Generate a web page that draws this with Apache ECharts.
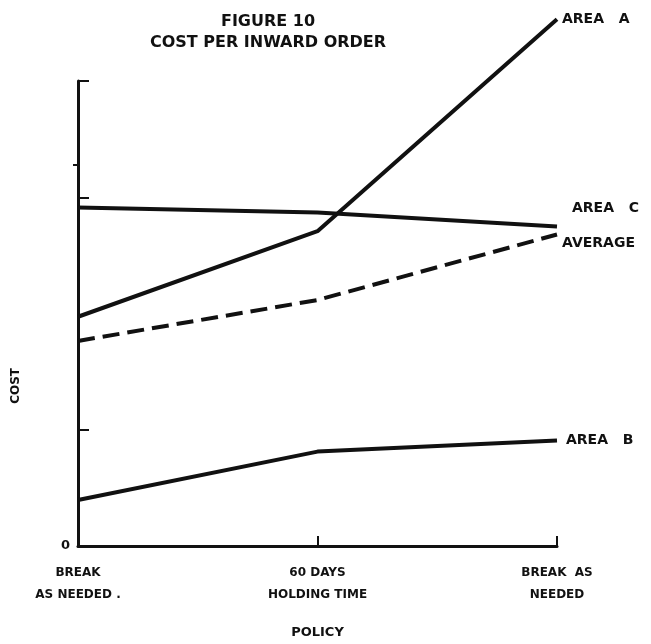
<!DOCTYPE html>
<html>
<head>
<meta charset="utf-8">
<script src="https://cdn.jsdelivr.net/npm/echarts@6/dist/echarts.min.js"></script>
<style>
  html, body { margin: 0; padding: 0; background: #fff; }
  #chart1 { width: 651px; height: 644px; }
</style>
</head>
<body>
<div id="chart1"></div>
<script>
/* Figure 10 - cost per inward order */

var categories = ['BREAK\nAS NEEDED .', '60 DAYS\nHOLDING TIME', 'BREAK  AS\nNEEDED'];
var areaA = [49.3, 67.7, 113.3];
var areaC = [72.8, 71.7, 68.7];
var average = [44.1, 52.9, 67.0];
var areaB = [9.9, 20.3, 22.7];
var costTicks = [25, 75, 100];
var costLeftTicks = [82];
var costLabels = [0];

var font = 'DejaVu Sans';
var ink = '#111';

var chart = echarts.init(document.getElementById('chart1'));

function lineSeries(name, label, data, offset, dashed) {
    return {
        name: name,
        type: 'line',
        data: data,
        symbol: 'none',
        clip: false,
        lineStyle: {
            color: ink,
            width: 4,
            type: dashed ? [17, 8] : 'solid'
        },
        endLabel: {
            show: true,
            formatter: label,
            distance: 5,
            offset: offset,
            color: ink,
            fontFamily: font,
            fontWeight: 'bold',
            fontSize: 14
        },
        silent: true
    };
}

var option = {
    backgroundColor: '#fff',
    animation: false,
    title: {
        text: 'FIGURE 10\nCOST PER INWARD ORDER',
        left: 263,
        top: 6,
        textAlign: 'center',
        textStyle: {
            color: ink,
            fontFamily: font,
            fontWeight: 'bold',
            fontSize: 16,
            lineHeight: 21
        }
    },
    grid: {
        left: 78,
        right: 94,
        top: 81,
        bottom: 96
    },
    xAxis: {
        type: 'category',
        data: categories,
        boundaryGap: false,
        name: 'POLICY',
        nameLocation: 'middle',
        nameGap: 80,
        nameTextStyle: { color: ink, fontFamily: font, fontWeight: 'bold', fontSize: 13 },
        axisLine: { lineStyle: { color: ink, width: 3 } },
        axisTick: {
            inside: true,
            length: 10,
            interval: function (index) { return index > 0; },
            lineStyle: { color: ink, width: 2 }
        },
        axisLabel: {
            margin: 16,
            color: ink,
            fontFamily: font,
            fontWeight: 'bold',
            fontSize: 12,
            lineHeight: 22
        },
        splitLine: { show: false }
    },
    yAxis: [{
        type: 'value',
        min: 0,
        max: 100,
        axisLine: { show: true, lineStyle: { color: ink, width: 3 } },
        axisTick: {
            show: true,
            inside: true,
            length: 11,
            customValues: costTicks,
            lineStyle: { color: ink, width: 2 }
        },
        axisLabel: {
            customValues: costLabels,
            margin: 8,
            color: ink,
            fontFamily: font,
            fontWeight: 'bold',
            fontSize: 13
        },
        splitLine: { show: false }
    }, {
        type: 'value',
        position: 'left',
        min: 0,
        max: 100,
        axisLine: { show: false },
        axisTick: {
            show: true,
            length: 5,
            customValues: costLeftTicks,
            lineStyle: { color: ink, width: 2 }
        },
        axisLabel: { show: false },
        splitLine: { show: false }
    }],
    graphic: [{
        type: 'text',
        left: 10,
        top: 368,
        rotation: Math.PI / 2,
        style: {
            text: 'COST',
            fill: ink,
            font: 'bold 12px "DejaVu Sans"'
        }
    }],
    series: [
        lineSeries('AREA A', 'AREA   A', areaA, [0, 0], false),
        lineSeries('AREA C', 'AREA   C', areaC, [10, -18], false),
        lineSeries('AVERAGE', 'AVERAGE', average, [0, 9], true),
        lineSeries('AREA B', 'AREA   B', areaB, [4, 0], false)
    ]
};

chart.setOption(option);
</script>
</body>
</html>
